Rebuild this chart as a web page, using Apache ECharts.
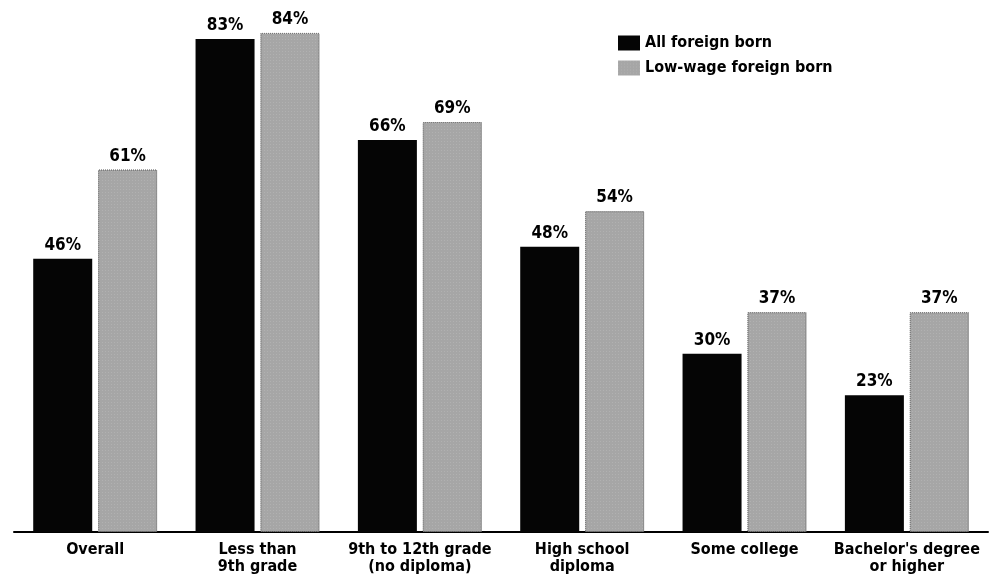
<!DOCTYPE html>
<html><head><meta charset="utf-8">
<script src="https://cdn.jsdelivr.net/npm/echarts@6/dist/echarts.min.js"></script>
<style>html,body{margin:0;padding:0;background:#fff}#c{width:991px;height:581px}</style>
</head><body><div id="c"></div>
<script>
const categories = ['Overall', 'Less than\n9th grade', '9th to 12th grade\n(no diploma)', 'High school\ndiploma', 'Some college', "Bachelor's degree\nor higher"];
const allForeignBorn = [46, 83, 66, 48, 30, 23];
const lowWageForeignBorn = [61, 84, 69, 54, 37, 37];
const seriesNames = ['All foreign born', 'Low-wage foreign born'];

const FONT = '"Liberation Sans Narrow", "DejaVu Sans Condensed", sans-serif';
const chart = echarts.init(document.getElementById('c'));
const labelStyle = {show: true, position: 'top', distance: 5, formatter: '{c}%', fontFamily: FONT, fontWeight: 'bold', fontSize: 17, color: '#000'};
chart.setOption({
  animation: false,
  grid: {left: 14, right: 3, top: 27, bottom: 49},
  legend: {
    left: 613, top: 30, orient: 'vertical', icon: 'rect', itemWidth: 22, itemHeight: 15, itemGap: 9,
    itemStyle: {borderWidth: 0},
    textStyle: {fontFamily: FONT, fontWeight: 'bold', fontSize: 16, color: '#000'},
    data: seriesNames
  },
  xAxis: {
    type: 'category', data: categories,
    axisLine: {lineStyle: {color: '#000', width: 2}},
    axisTick: {show: false},
    axisLabel: {interval: 0, margin: 9, fontFamily: FONT, fontWeight: 'bold', fontSize: 16, lineHeight: 17, color: '#000'}
  },
  yAxis: {type: 'value', min: 0, max: 85, show: false, splitLine: {show: false}},
  series: [
    {name: seriesNames[0], type: 'bar', data: allForeignBorn, barWidth: 59, barGap: '10%',
     itemStyle: {color: '#050505'}, label: labelStyle},
    {name: seriesNames[1], type: 'bar', data: lowWageForeignBorn, barWidth: 59,
     itemStyle: {color: '#a6a6a6', borderColor: '#777', borderWidth: 1, borderType: 'dotted',
       decal: {symbol: 'rect', symbolSize: 0.6, dashArrayX: [1, 2], dashArrayY: [1, 2], color: 'rgba(255,255,255,0.45)', rotation: 0}},
     label: labelStyle}
  ]
});
</script></body></html>
